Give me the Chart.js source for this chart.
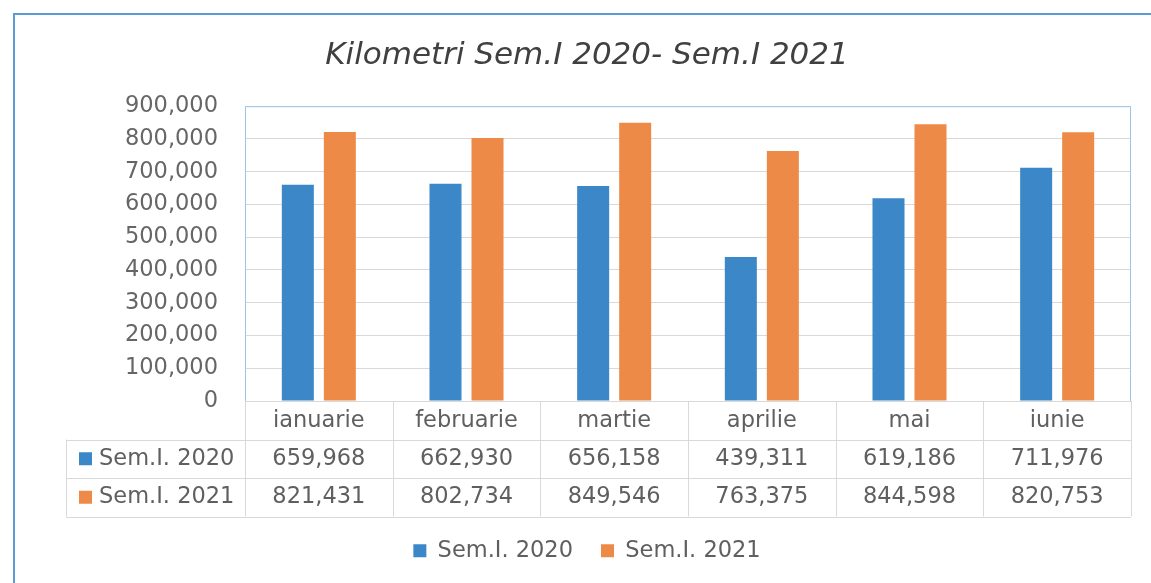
<!DOCTYPE html>
<html>
<head>
<meta charset="utf-8">
<title>Kilometri Sem.I 2020- Sem.I 2021</title>
<script src="https://cdn.jsdelivr.net/npm/chart.js@4.4.1/dist/chart.umd.min.js"></script>
<style>
  html, body { margin: 0; padding: 0; background: #fff; overflow: hidden; }
</style>
</head>
<body>
<canvas id="kmChart" width="1151" height="583"></canvas>
<script>
const months = ['ianuarie', 'februarie', 'martie', 'aprilie', 'mai', 'iunie'];
const seriesNames = ['Sem.I. 2020', 'Sem.I. 2021'];
const km2020 = [659968, 662930, 656158, 439311, 619186, 711976];
const km2021 = [821431, 802734, 849546, 763375, 844598, 820753];
const yTicks = [0, 100000, 200000, 300000, 400000, 500000, 600000, 700000, 800000, 900000];

const FONT = '"DejaVu Sans", sans-serif';
const TEXT_GREY = '#5f5f5f';
const fmt = (v) => v.toLocaleString('en-US');

// outer frame + data table under the plot
const tableGrid = {
  id: 'tableGrid',
  beforeDraw(chart) {
    const ctx = chart.ctx;
    ctx.save();
    ctx.fillStyle = '#fff';
    ctx.fillRect(0, 0, chart.width, chart.height);
    ctx.strokeStyle = '#5b9bd5';
    ctx.lineWidth = 2;
    ctx.beginPath();
    ctx.moveTo(14, chart.height);
    ctx.lineTo(14, 14);
    ctx.lineTo(chart.width, 14);
    ctx.stroke();
    ctx.restore();
  },
  afterDraw(chart) {
    const { ctx, chartArea: a, scales: { x } } = chart;
    const rowH = 38.5;
    const tableLeft = 66;
    const top = a.bottom;
    const nRows = chart.data.datasets.length;
    const bottom = top + rowH * (nRows + 1);
    const step = (a.right - a.left) / chart.data.labels.length;

    ctx.save();
    ctx.strokeStyle = '#d9d9d9';
    ctx.lineWidth = 1;
    ctx.beginPath();
    for (let i = 0; i <= chart.data.labels.length; i++) {
      const px = Math.round(a.left + i * step) + 0.5;
      ctx.moveTo(px, top);
      ctx.lineTo(px, bottom);
    }
    ctx.moveTo(tableLeft + 0.5, top + rowH);
    ctx.lineTo(tableLeft + 0.5, bottom);
    ctx.moveTo(a.left, Math.round(top) + 0.5);
    ctx.lineTo(a.right, Math.round(top) + 0.5);
    for (let r = 1; r <= nRows + 1; r++) {
      const py = Math.round(top + r * rowH) + 0.5;
      ctx.moveTo(tableLeft, py);
      ctx.lineTo(a.right, py);
    }
    ctx.stroke();

    // plot area border
    ctx.strokeStyle = '#9dc3e6';
    ctx.beginPath();
    ctx.moveTo(a.left + 0.5, a.bottom);
    ctx.lineTo(a.left + 0.5, a.top + 0.5);
    ctx.lineTo(a.right - 0.5, a.top + 0.5);
    ctx.lineTo(a.right - 0.5, a.bottom);
    ctx.stroke();

    ctx.font = '22.5px ' + FONT;
    ctx.textBaseline = 'middle';
    chart.data.datasets.forEach((ds, r) => {
      const cy = top + rowH * (r + 1.5);
      ctx.fillStyle = ds.backgroundColor;
      ctx.fillRect(79, cy - 6.5, 13, 13);
      ctx.fillStyle = TEXT_GREY;
      ctx.textAlign = 'left';
      ctx.fillText(ds.label, 99, cy);
      ctx.textAlign = 'center';
      ds.data.forEach((v, i) => {
        ctx.fillText(fmt(v), x.getPixelForValue(i), cy);
      });
    });
    ctx.restore();
  }
};

Chart.defaults.font.family = FONT;

new Chart(document.getElementById('kmChart'), {
  type: 'bar',
  data: {
    labels: months,
    datasets: [
      { label: seriesNames[0], data: km2020, backgroundColor: '#3c87c8', borderWidth: 0 },
      { label: seriesNames[1], data: km2021, backgroundColor: '#ee8a47', borderWidth: 0 }
    ]
  },
  options: {
    responsive: false,
    animation: false,
    barPercentage: 0.762,
    categoryPercentage: 0.569,
    layout: { padding: { left: 43, right: 20, top: 0, bottom: 11 } },
    plugins: {
      title: {
        display: true,
        text: 'Kilometri Sem.I 2020- Sem.I 2021',
        color: '#404040',
        font: { size: 31, style: 'italic', weight: 'normal', lineHeight: 1.2 },
        padding: { top: 37, bottom: 32 }
      },
      legend: {
        position: 'bottom',
        labels: {
          boxWidth: 13,
          boxHeight: 13,
          padding: 28,
          color: TEXT_GREY,
          font: { size: 22.5 }
        }
      },
      tooltip: { enabled: false }
    },
    scales: {
      x: {
        grid: { display: false, drawTicks: false },
        border: { display: false },
        ticks: { color: TEXT_GREY, font: { size: 22.5 }, padding: 7, maxRotation: 0 },
        afterFit(scale) {
          const legendH = scale.chart.legend ? scale.chart.legend.height : 61;
          scale.height = scale.chart.height - 11 - legendH - 401;
        }
      },
      y: {
        min: 0,
        max: 900000,
        grid: { color: '#d9d9d9', drawTicks: false },
        border: { display: false },
        ticks: { color: '#666', font: { size: 22.5 }, padding: 27, callback: (v) => fmt(v) },
        afterBuildTicks(scale) {
          scale.ticks = yTicks.map((v) => ({ value: v }));
        },
        afterFit(scale) {
          scale.width = 202;
        }
      }
    }
  },
  plugins: [tableGrid]
});
</script>
</body>
</html>
